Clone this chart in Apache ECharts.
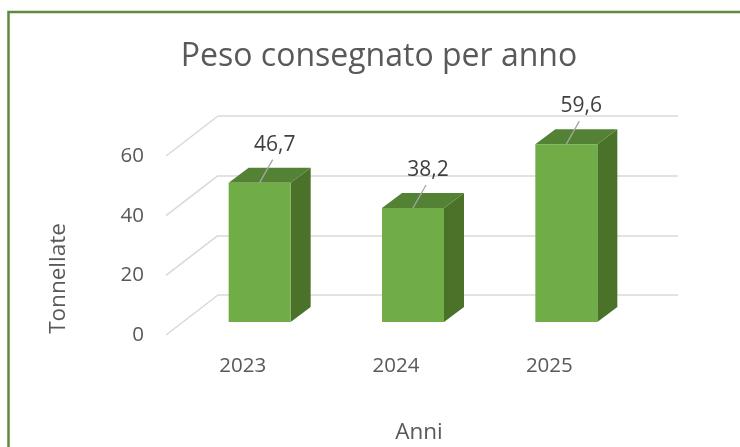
<!DOCTYPE html>
<html>
<head>
<meta charset="utf-8">
<script src="https://cdn.jsdelivr.net/npm/echarts@6/dist/echarts.min.js"></script>
<style>
html,body{margin:0;padding:0;background:#fff;}
#c{width:740px;height:447px;}
</style>
</head>
<body>
<div id="c"></div>
<script>
const categories = ['2023', '2024', '2025'];
const values = [46.7, 38.2, 59.6];
const yTicks = [0, 20, 40, 60];
const chartTitle = 'Peso consegnato per anno';
const xTitle = 'Anni';
const yTitle = 'Tonnellate';

const FONT = '"Open Sans", "Noto Sans", sans-serif';
const WALL_DEPTH = [-52, 40];   // back wall -> front edge
const BAR_FRONT = [-35, 27];    // back wall -> bar front face
const BAR_DEPTH = [20, -15];    // bar front face -> bar back face
const HALF_W = 31;

const chart = echarts.init(document.getElementById('c'), null, {renderer: 'canvas'});

function fmt(v) { return v.toFixed(1).replace('.', ','); }

const option = {
  animation: false,
  backgroundColor: '#ffffff',
  title: {
    text: chartTitle,
    left: 379,
    top: 41,
    textAlign: 'center',
    padding: 0,
    textStyle: {fontFamily: FONT, fontSize: 32, fontWeight: 'normal', color: '#595959'}
  },
  grid: [
    {left: 218, right: 62, top: 116, bottom: 152},
    {left: 166, right: 114, top: 156, bottom: 112}
  ],
  xAxis: [
    {type: 'category', gridIndex: 0, data: categories, show: false},
    {type: 'category', gridIndex: 1, data: categories,
      axisLine: {show: false}, axisTick: {show: false},
      axisLabel: {margin: 21, fontFamily: FONT, fontSize: 20.5, color: '#595959'}}
  ],
  yAxis: [
    {type: 'value', gridIndex: 0, min: 0, max: 60, interval: 20,
      axisLine: {show: false}, axisTick: {show: false}, axisLabel: {show: false},
      splitLine: {lineStyle: {color: '#d9d9d9', width: 1.5}}},
    {type: 'value', gridIndex: 1, min: 0, max: 60, interval: 20,
      axisLine: {show: false}, axisTick: {show: false}, splitLine: {show: false},
      axisLabel: {margin: 22, fontFamily: FONT, fontSize: 20.5, color: '#595959'}}
  ],
  graphic: [
    {type: 'rect', shape: {x: 8.5, y: 12, width: 900, height: 600},
      style: {fill: 'none', stroke: '#5b8c3a', lineWidth: 2.5}, silent: true},
    {type: 'text', x: 419, y: 433,
      style: {text: xTitle, textAlign: 'center', textVerticalAlign: 'middle',
        fontFamily: FONT, fontSize: 22.5, fill: '#595959'}},
    {type: 'text', x: 58.5, y: 278.5, rotation: Math.PI / 2,
      style: {text: yTitle, textAlign: 'center', textVerticalAlign: 'middle',
        fontFamily: FONT, fontSize: 22.5, fill: '#595959'}}
  ],
  series: [
    {
      type: 'custom', xAxisIndex: 0, yAxisIndex: 0, clip: false, silent: true,
      data: yTicks.map(v => [0, v]),
      renderItem: function (params, api) {
        const p = api.coord([0, api.value(1)]);
        const x0 = params.coordSys.x;
        return {type: 'line', shape: {x1: x0, y1: p[1], x2: x0 + WALL_DEPTH[0], y2: p[1] + WALL_DEPTH[1]},
          style: {stroke: '#d9d9d9', lineWidth: 1.5}};
      }
    },
    {
      type: 'custom', xAxisIndex: 0, yAxisIndex: 0, clip: false, silent: true,
      data: values.map((v, i) => [i, v]),
      renderItem: function (params, api) {
        const i = api.value(0), v = api.value(1);
        const top = api.coord([i, v]);
        const base = api.coord([i, 0]);
        const cx = top[0] + BAR_FRONT[0];
        const yt = top[1] + BAR_FRONT[1];
        const yb = base[1] + BAR_FRONT[1];
        const l = cx - HALF_W, r = cx + HALF_W;
        const dx = BAR_DEPTH[0], dy = BAR_DEPTH[1];
        return {
          type: 'group',
          children: [
            {type: 'polygon', shape: {points: [[r, yt], [r + dx, yt + dy], [r + dx, yb + dy], [r, yb]]},
              style: {fill: '#4a7229'}},
            {type: 'polygon', shape: {points: [[l, yt], [l + dx, yt + dy], [r + dx, yt + dy], [r, yt]]},
              style: {fill: '#548235'}},
            {type: 'rect', shape: {x: l, y: yt, width: r - l, height: yb - yt},
              style: {fill: '#70ad47'}},
            {type: 'line', shape: {x1: cx, y1: yt, x2: cx + 13, y2: yt - 23},
              style: {stroke: '#a6a6a6', lineWidth: 1.3}},
            {type: 'text', x: cx + 15, y: yt - 38,
              style: {text: fmt(v), textAlign: 'center', textVerticalAlign: 'middle',
                fontFamily: FONT, fontSize: 21, fill: '#404040'}}
          ]
        };
      }
    }
  ]
};
chart.setOption(option);
</script>
</body>
</html>
